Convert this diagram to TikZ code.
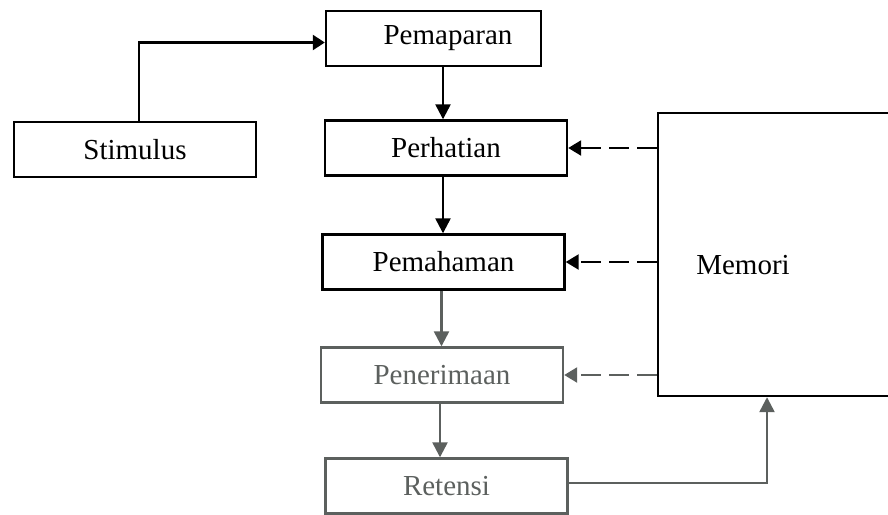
\documentclass[tikz,border=0pt]{standalone}
\usepackage{fontspec}
\setmainfont{Liberation Serif}
\usetikzlibrary{arrows.meta}
\definecolor{wmgray}{RGB}{92,96,94}

\begin{document}
\begin{tikzpicture}[x=0.5pt, y=-0.5pt, line width=1.2pt, >={Triangle[length=7.5pt,width=7.5pt]}]
        % Define the styles for the boxes and arrows
        \tikzstyle{stepbox}=[rectangle, draw, minimum width=121pt, minimum height=27.5pt, inner sep=0pt, font=\fontsize{14.5}{17}\selectfont]
        \tikzstyle{faded}=[draw=wmgray, text=wmgray]
        \tikzstyle{memline}=[->, >={Triangle[length=6.5pt,width=7.5pt]}, dash pattern=on 10pt off 4pt]

        \useasboundingbox (0,0) rectangle (888,514);
        \clip (0,0) rectangle (888,514);

        % Define the nodes
        \node[stepbox] (stimulus) at (135,149.5) {Stimulus};
        \node[stepbox, minimum width=107.5pt] (pemaparan) at (433.5,38.5) {\hspace*{14.5pt}Pemaparan};
        \node[stepbox] (perhatian) at (446,148) {Perhatian};
        \node[stepbox] (pemahaman) at (443.5,262) {Pemahaman};
        \node[stepbox, faded] (penerimaan) at (442,375) {Penerimaan};
        \node[stepbox, faded] (retensi) at (446.5,486) {Retensi};
        \node[stepbox, minimum width=130pt, minimum height=141.5pt] (memori) at (788,254.5) {};
        \node[stepbox, draw=none] (memorilabel) at (743,265) {Memori};

        % Define the arrows of the main flow
        \draw[->, >={Triangle[length=6pt,width=7.5pt]}] ([xshift=2pt]stimulus.north) |- ([yshift=-2pt]pemaparan.west);
        \draw[->] ([xshift=-1.5pt]perhatian.north |- pemaparan.south) -- ([xshift=-1.5pt]perhatian.north);
        \draw[->] ([xshift=-1.5pt]perhatian.south) -- ([xshift=-1.5pt]pemahaman.north -| perhatian.south);
        \draw[->, wmgray] ([xshift=-1pt]pemahaman.south) -- ([xshift=-1pt]penerimaan.north -| pemahaman.south);
        \draw[->, wmgray] ([xshift=-1pt]penerimaan.south) -- ([xshift=-1pt]retensi.north -| penerimaan.south);

        % Define the arrows from and to the memory
        \draw[memline] (memori.west |- perhatian.east) -- (perhatian.east);
        \draw[memline] (memori.west |- pemahaman.east) -- (pemahaman.east);
        \draw[memline, wmgray] (memori.west |- penerimaan.east) -- (penerimaan.east);
        \draw[->, wmgray] ([yshift=1.5pt]retensi.east) -| ([xshift=-10.5pt]memori.south);
\end{tikzpicture}
\end{document}
